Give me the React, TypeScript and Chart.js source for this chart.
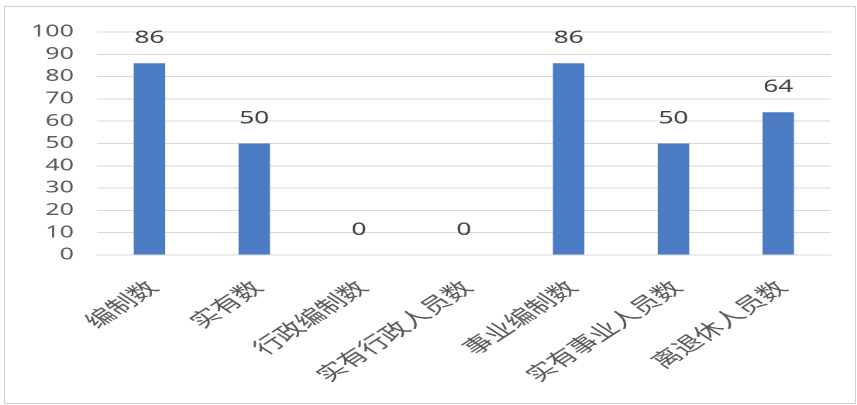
import React, { useEffect, useRef } from "react";
import { Chart, registerables } from "chart.js";

Chart.register(...registerables);

const categories = ["编制数", "实有数", "行政编制数", "实有行政人员数", "事业编制数", "实有事业人员数", "离退休人员数"];
const values = [86, 50, 0, 0, 86, 50, 64];
const yMin = 0;
const yMax = 100;
const yStep = 10;

const STRETCH = 1.55;
const W = 857;
const H = 405;
const LW = Math.round(W / STRETCH);
const FONT = "'Noto Sans', 'Noto Sans CJK SC', sans-serif";

const dataLabels = {
  id: "dataLabels",
  afterDatasetsDraw(chart: any) {
    const ctx = chart.ctx;
    const meta = chart.getDatasetMeta(0);
    ctx.save();
    ctx.font = `17px ${FONT}`;
    ctx.fillStyle = "#404040";
    ctx.textAlign = "center";
    ctx.textBaseline = "middle";
    meta.data.forEach((el: any, i: number) => {
      ctx.fillText(String(values[i]), el.x, el.y - 25);
    });
    ctx.restore();
  },
};

export default function App() {
  const ref = useRef<HTMLCanvasElement | null>(null);
  useEffect(() => {
    if (!ref.current) return;
    const chart = new Chart(ref.current, {
      type: "bar",
      data: {
        labels: categories,
        datasets: [
          {
            data: values,
            backgroundColor: "#4a7bc3",
            barPercentage: 0.3,
            categoryPercentage: 1,
          },
        ],
      },
      options: {
        animation: false,
        responsive: false,
        maintainAspectRatio: false,
        devicePixelRatio: 2,
        layout: { padding: { top: 32, right: 17, left: 0, bottom: 0 } },
        plugins: { legend: { display: false }, tooltip: { enabled: false } },
        scales: {
          x: {
            grid: { display: false, drawTicks: false },
            border: { display: true, color: "#d9d9d9" },
            ticks: {
              minRotation: 45,
              maxRotation: 45,
              autoSkip: false,
              padding: 22,
              labelOffset: 3,
              color: "#595959",
              font: { family: FONT, size: 19 },
            },
            afterFit(scale: any) {
              scale.height = 150;
            },
          },
          y: {
            min: yMin,
            max: yMax,
            grid: { color: "#d9d9d9", drawTicks: false },
            border: { display: false },
            ticks: {
              stepSize: yStep,
              autoSkip: false,
              padding: 15,
              color: "#595959",
              font: { family: FONT, size: 16 },
            },
            afterFit(scale: any) {
              scale.width = 62.6;
            },
          },
        },
      },
      plugins: [dataLabels],
    });
    return () => chart.destroy();
  }, []);

  return (
    <div style={{ position: "fixed", left: 0, top: 0, width: W, height: H, background: "#fff", overflow: "hidden" }}>
      <div
        style={{
          position: "absolute",
          left: 0,
          top: 0,
          width: LW,
          height: H,
          transform: `scaleX(${W / LW})`,
          transformOrigin: "0 0",
        }}
      >
        <canvas ref={ref} width={LW} height={H} style={{ width: LW, height: H, display: "block" }} />
      </div>
      <div
        style={{
          position: "absolute",
          left: 4,
          top: 6,
          width: 850,
          height: 396,
          border: "1px solid #d0d0d0",
          pointerEvents: "none",
        }}
      />
    </div>
  );
}
